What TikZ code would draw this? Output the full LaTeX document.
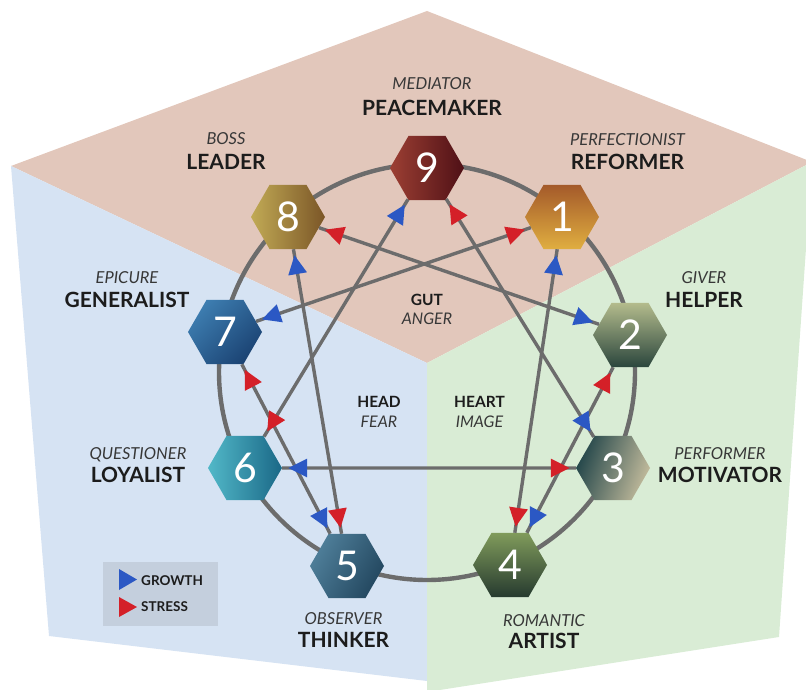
\documentclass[tikz,border=0pt]{standalone}
\usepackage{fontspec}
\setmainfont{Lato}
\usetikzlibrary{arrows.meta,positioning,shapes.geometric,decorations.markings}
\definecolor{gutpink}{RGB}{226,199,187}
\definecolor{headblue}{RGB}{214,227,243}
\definecolor{heartgreen}{RGB}{217,236,213}
\definecolor{legendgrey}{RGB}{196,207,221}
\definecolor{linegrey}{RGB}{108,108,108}
\definecolor{growthblue}{RGB}{43,88,196}
\definecolor{stressred}{RGB}{212,32,40}
\definecolor{inkdark}{RGB}{28,28,28}
\definecolor{inkgrey}{RGB}{55,55,55}
% hexagon tones
\definecolor{tone9a}{HTML}{9C3F33}\definecolor{tone9b}{HTML}{4F1016}
\definecolor{tone1a}{HTML}{A45A2A}\definecolor{tone1b}{HTML}{E0AE40}
\definecolor{tone2a}{HTML}{B3BB8C}\definecolor{tone2b}{HTML}{2B463D}
\definecolor{tone3a}{HTML}{23464A}\definecolor{tone3b}{HTML}{C2BB9C}
\definecolor{tone4a}{HTML}{809B5B}\definecolor{tone4b}{HTML}{263A2F}
\definecolor{tone5a}{HTML}{4F7F9A}\definecolor{tone5b}{HTML}{23475F}
\definecolor{tone6a}{HTML}{52B8C8}\definecolor{tone6b}{HTML}{1A6887}
\definecolor{tone7a}{HTML}{3D7DB0}\definecolor{tone7b}{HTML}{1B4373}
\definecolor{tone8a}{HTML}{C1AA55}\definecolor{tone8b}{HTML}{7B5627}
\tikzset{
  hexa/.style n args={3}{regular polygon,regular polygon sides=6,minimum size=74pt,inner sep=0pt,
    top color=#1,bottom color=#2,shading angle=#3,text=white,font=\fontsize{41}{41}\selectfont},
  typename/.style={anchor=base,inner sep=0pt,text=inkdark,font=\fontsize{21}{21}\selectfont\bfseries},
  typealias/.style={anchor=base,inner sep=0pt,text=inkgrey,font=\fontsize{16.5}{16.5}\selectfont\itshape},
  centrename/.style={anchor=base,inner sep=0pt,text=inkdark,font=\fontsize{15.5}{15.5}\selectfont\bfseries},
  centrealias/.style={anchor=base,inner sep=0pt,text=inkgrey,font=\fontsize{16}{16}\selectfont\itshape},
  legendtext/.style={anchor=base west,inner sep=0pt,text=inkdark,font=\fontsize{13.5}{13.5}\selectfont\bfseries},
  link/.style 2 args={draw=linegrey,line width=3.4pt,postaction={decorate,decoration={markings,
      mark=at position 6pt with {\arrowreversed{Triangle[length=19pt,width=18pt,color=#1]}},
      mark=at position -6pt with {\arrow{Triangle[length=19pt,width=18pt,color=#2]}}}}}
}
\begin{document}
\begin{tikzpicture}[x=1pt,y=-1pt]
  \useasboundingbox (0,0) rectangle (806,690);
  \clip (0,0) rectangle (806,690);
  % centres: gut, head, heart
  \fill[gutpink] (427,11) -- (812,162) -- (427,363) -- (11,166) -- cycle;
  \fill[headblue] (11,166) -- (427,363) -- (427,681) -- (49,636) -- cycle;
  \fill[heartgreen] (427,363) -- (812,162) -- (779,637) -- (427,692) -- cycle;
  \draw[linegrey,line width=4.4pt] (427,372) circle[radius=208pt];
  % the nine points
  \node[hexa={tone9a}{tone9b}{90}] (n9) at (427,168) {9};
  \node[hexa={tone1a}{tone1b}{0}] (n1) at (562,217) {1};
  \node[hexa={tone2a}{tone2b}{0}] (n2) at (630,335) {2};
  \node[hexa={tone3a}{tone3b}{70}] (n3) at (613,468) {3};
  \node[hexa={tone4a}{tone4b}{0}] (n4) at (510,565) {4};
  \node[hexa={tone5a}{tone5b}{60}] (n5) at (347,566) {5};
  \node[hexa={tone6a}{tone6b}{90}] (n6) at (245,468) {6};
  \node[hexa={tone7a}{tone7b}{45}] (n7) at (225,332) {7};
  \node[hexa={tone8a}{tone8b}{90}] (n8) at (288,217) {8};
  % growth and stress lines
  \foreach \a/\b in {1/4,4/2,2/8,8/5,5/7,7/1}
    \draw[link={growthblue}{stressred}] (n\a) -- (n\b);
  \foreach \a/\b in {9/3,3/6,6/9}
    \draw[link={stressred}{growthblue}] (n\a) -- (n\b);
  % type labels
  \node[typealias] (a9) at (432,90) {MEDIATOR};
  \node[typename] (b9) at (432,116) {PEACEMAKER};
  \node[typealias] (a1) at (627.5,146) {PERFECTIONIST};
  \node[typename] (b1) at (627.5,169) {REFORMER};
  \node[typealias] (a2) at (704,283) {GIVER};
  \node[typename] (b2) at (704,307) {HELPER};
  \node[typealias] (a3) at (720,459) {PERFORMER};
  \node[typename] (b3) at (720,482) {MOTIVATOR};
  \node[typealias] (a4) at (544,626) {ROMANTIC};
  \node[typename] (b4) at (544,648) {ARTIST};
  \node[typealias] (a5) at (343.5,624) {OBSERVER};
  \node[typename] (b5) at (343.5,647) {THINKER};
  \node[typealias] (a6) at (138,459) {QUESTIONER};
  \node[typename] (b6) at (138,482) {LOYALIST};
  \node[typealias] (a7) at (127,283) {EPICURE};
  \node[typename] (b7) at (127,307) {GENERALIST};
  \node[typealias] (a8) at (226,145) {BOSS};
  \node[typename] (b8) at (226,169) {LEADER};
  % centre labels
  \node[centrename] (gut) at (427,305) {GUT};
  \node[centrealias] (anger) at (427,324) {ANGER};
  \node[centrename] (head) at (379,407) {HEAD};
  \node[centrealias] (fear) at (379,427) {FEAR};
  \node[centrename] (heart) at (479.5,407) {HEART};
  \node[centrealias] (image) at (479.5,427) {IMAGE};
  % legend
  \fill[legendgrey] (103,562) rectangle (218,626);
  \fill[growthblue] (119,569) -- (137,579.5) -- (119,590) -- cycle;
  \fill[stressred] (119,597) -- (137,607) -- (119,617) -- cycle;
  \node[legendtext] (growth) at (141,585) {GROWTH};
  \node[legendtext] (stress) at (141,611.5) {STRESS};
\end{tikzpicture}
\end{document}
